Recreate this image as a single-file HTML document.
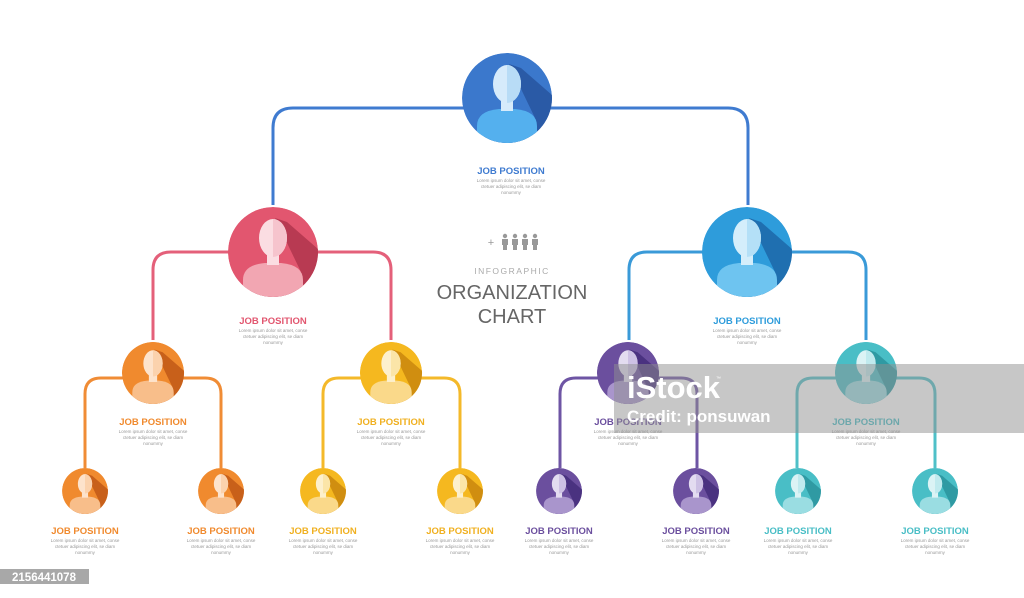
<!DOCTYPE html>
<html><head><meta charset="utf-8"><style>
html,body{margin:0;padding:0;background:#fff;}
svg{display:block;}
.t{font-family:"Liberation Sans",sans-serif;}
</style></head><body>
<svg width="1024" height="598" viewBox="0 0 1024 598" xmlns="http://www.w3.org/2000/svg">
<defs>
<clipPath id="cp"><circle r="45"/></clipPath>
<g id="node">
 <g clip-path="url(#cp)">
  <circle r="45" style="fill:var(--c)"/>
  <polygon points="2,-34 14,-30 60,10 60,60 10,60 -28,40 28,20" style="fill:var(--d)"/>
  <path d="M-30,45 L-30,28 Q-30,13 -8,11 L8,11 Q30,13 30,28 L30,45 Z" style="fill:var(--s)"/>
  <rect x="-6" y="2" width="12" height="11" style="fill:var(--l)"/>
  <ellipse cx="0" cy="-14" rx="14" ry="19" style="fill:var(--l)"/>
  <path d="M0,-33 A14,19 0 0 1 0,5 Z" style="fill:var(--r)"/>
 </g>
</g>
</defs>

<g fill="none" stroke-width="3">
 <path d="M273,205 V128 Q273,108 293,108 H728 Q748,108 748,128 V205" stroke="#3f7bd0"/>
 <path d="M153,340 V270 Q153,252 171,252 H373 Q391,252 391,270 V340" stroke="#e4607a"/>
 <path d="M629,340 V270 Q629,252 647,252 H848 Q866,252 866,270 V340" stroke="#3a9ad8"/>
 <path d="M85,468 V394 Q85,378 101,378 H205 Q221,378 221,394 V468" stroke="#f08c35"/>
 <path d="M323,468 V394 Q323,378 339,378 H444 Q460,378 460,394 V468" stroke="#f4b92a"/>
 <path d="M560,468 V394 Q560,378 576,378 H681 Q697,378 697,394 V468" stroke="#6e55a4"/>
 <path d="M797,468 V394 Q797,378 813,378 H919 Q935,378 935,394 V468" stroke="#4fc0c8"/>
</g>

<use href="#node" transform="translate(507,98)" style="--c:#3b78cc;--d:#2a5aa6;--s:#54b0ee;--l:#d6ebfb;--r:#b8dcf6"/>
<use href="#node" transform="translate(273,252)" style="--c:#e2566f;--d:#b83a52;--s:#f2a6b2;--l:#fbdde2;--r:#f6c4cd"/>
<use href="#node" transform="translate(747,252)" style="--c:#2e9cdb;--d:#1f6fb0;--s:#6ec4f0;--l:#d4eefb;--r:#b4e0f7"/>
<use href="#node" transform="translate(153,373) scale(0.69)" style="--c:#f08a2e;--d:#c8601a;--s:#f8be8a;--l:#fde3cc;--r:#fbd2ad"/>
<use href="#node" transform="translate(391,373) scale(0.69)" style="--c:#f5b81f;--d:#d08e10;--s:#fad98a;--l:#fdf0cc;--r:#fbe5a8"/>
<use href="#node" transform="translate(628,373) scale(0.69)" style="--c:#6b4f9e;--d:#4a3280;--s:#a995cc;--l:#e3dcf0;--r:#cdc1e4"/>
<use href="#node" transform="translate(866,373) scale(0.69)" style="--c:#49bec6;--d:#2f9aa3;--s:#9adde2;--l:#dbf3f5;--r:#c0eaee"/>
<use href="#node" transform="translate(85,491) scale(0.51)" style="--c:#f08a2e;--d:#c8601a;--s:#f8be8a;--l:#fde3cc;--r:#fbd2ad"/>
<use href="#node" transform="translate(221,491) scale(0.51)" style="--c:#f08a2e;--d:#c8601a;--s:#f8be8a;--l:#fde3cc;--r:#fbd2ad"/>
<use href="#node" transform="translate(323,491) scale(0.51)" style="--c:#f5b81f;--d:#d08e10;--s:#fad98a;--l:#fdf0cc;--r:#fbe5a8"/>
<use href="#node" transform="translate(460,491) scale(0.51)" style="--c:#f5b81f;--d:#d08e10;--s:#fad98a;--l:#fdf0cc;--r:#fbe5a8"/>
<use href="#node" transform="translate(559,491) scale(0.51)" style="--c:#6b4f9e;--d:#4a3280;--s:#a995cc;--l:#e3dcf0;--r:#cdc1e4"/>
<use href="#node" transform="translate(696,491) scale(0.51)" style="--c:#6b4f9e;--d:#4a3280;--s:#a995cc;--l:#e3dcf0;--r:#cdc1e4"/>
<use href="#node" transform="translate(798,491) scale(0.51)" style="--c:#49bec6;--d:#2f9aa3;--s:#9adde2;--l:#dbf3f5;--r:#c0eaee"/>
<use href="#node" transform="translate(935,491) scale(0.51)" style="--c:#49bec6;--d:#2f9aa3;--s:#9adde2;--l:#dbf3f5;--r:#c0eaee"/>

<g class="t" text-anchor="middle">
 <g font-size="9.5" font-weight="bold">
  <text x="511" y="174" fill="#3f7bd0">JOB POSITION</text>
  <text x="273" y="324" fill="#e2566f">JOB POSITION</text>
  <text x="747" y="324" fill="#2e9cdb">JOB POSITION</text>
  <text x="153" y="425" fill="#f08a2e">JOB POSITION</text>
  <text x="391" y="425" fill="#f0b020">JOB POSITION</text>
  <text x="628" y="425" fill="#6b4f9e">JOB POSITION</text>
  <text x="866" y="425" fill="#49bec6">JOB POSITION</text>
  <text x="85" y="534" fill="#f08a2e">JOB POSITION</text>
  <text x="221" y="534" fill="#f08a2e">JOB POSITION</text>
  <text x="323" y="534" fill="#f0b020">JOB POSITION</text>
  <text x="460" y="534" fill="#f0b020">JOB POSITION</text>
  <text x="559" y="534" fill="#6b4f9e">JOB POSITION</text>
  <text x="696" y="534" fill="#6b4f9e">JOB POSITION</text>
  <text x="798" y="534" fill="#49bec6">JOB POSITION</text>
  <text x="935" y="534" fill="#49bec6">JOB POSITION</text>
 </g>
 <g font-size="4.5" fill="#999">
  <text x="511" y="182">Lorem ipsum dolor sit amet, conse</text><text x="511" y="188">ctetuer adipiscing elit, se diam</text><text x="511" y="194">nonummy</text>
  <text x="273" y="332">Lorem ipsum dolor sit amet, conse</text><text x="273" y="338">ctetuer adipiscing elit, se diam</text><text x="273" y="344">nonummy</text>
  <text x="747" y="332">Lorem ipsum dolor sit amet, conse</text><text x="747" y="338">ctetuer adipiscing elit, se diam</text><text x="747" y="344">nonummy</text>
  <text x="153" y="433">Lorem ipsum dolor sit amet, conse</text><text x="153" y="439">ctetuer adipiscing elit, se diam</text><text x="153" y="445">nonummy</text>
  <text x="391" y="433">Lorem ipsum dolor sit amet, conse</text><text x="391" y="439">ctetuer adipiscing elit, se diam</text><text x="391" y="445">nonummy</text>
  <text x="628" y="433">Lorem ipsum dolor sit amet, conse</text><text x="628" y="439">ctetuer adipiscing elit, se diam</text><text x="628" y="445">nonummy</text>
  <text x="866" y="433">Lorem ipsum dolor sit amet, conse</text><text x="866" y="439">ctetuer adipiscing elit, se diam</text><text x="866" y="445">nonummy</text>
  <text x="85" y="542">Lorem ipsum dolor sit amet, conse</text><text x="85" y="548">ctetuer adipiscing elit, se diam</text><text x="85" y="554">nonummy</text>
  <text x="221" y="542">Lorem ipsum dolor sit amet, conse</text><text x="221" y="548">ctetuer adipiscing elit, se diam</text><text x="221" y="554">nonummy</text>
  <text x="323" y="542">Lorem ipsum dolor sit amet, conse</text><text x="323" y="548">ctetuer adipiscing elit, se diam</text><text x="323" y="554">nonummy</text>
  <text x="460" y="542">Lorem ipsum dolor sit amet, conse</text><text x="460" y="548">ctetuer adipiscing elit, se diam</text><text x="460" y="554">nonummy</text>
  <text x="559" y="542">Lorem ipsum dolor sit amet, conse</text><text x="559" y="548">ctetuer adipiscing elit, se diam</text><text x="559" y="554">nonummy</text>
  <text x="696" y="542">Lorem ipsum dolor sit amet, conse</text><text x="696" y="548">ctetuer adipiscing elit, se diam</text><text x="696" y="554">nonummy</text>
  <text x="798" y="542">Lorem ipsum dolor sit amet, conse</text><text x="798" y="548">ctetuer adipiscing elit, se diam</text><text x="798" y="554">nonummy</text>
  <text x="935" y="542">Lorem ipsum dolor sit amet, conse</text><text x="935" y="548">ctetuer adipiscing elit, se diam</text><text x="935" y="554">nonummy</text>
 </g>
 <text x="512" y="274" font-size="8.5" fill="#aaa" letter-spacing="1.5">INFOGRAPHIC</text>
 <text x="512" y="299" font-size="20" fill="#666">ORGANIZATION</text>
 <text x="512" y="323" font-size="20" fill="#666">CHART</text>
</g>
<g fill="#999">
 <text x="491" y="246" class="t" font-size="11" text-anchor="middle">+</text>
 <g id="pp"><circle cx="505" cy="236" r="2.2"/><path d="M502,239 h6 v6 h-1 v5 h-4 v-5 h-1 z"/></g>
 <use href="#pp" x="10"/><use href="#pp" x="20"/><use href="#pp" x="30"/>
</g>

<rect x="614" y="364" width="410" height="69" fill="#909090" opacity="0.5"/>
<text x="627" y="398" class="t" font-size="31" font-weight="bold" fill="#fff">iStock</text>
<text x="716" y="380" class="t" font-size="5" fill="#fff">™</text>
<text x="627" y="422" class="t" font-size="17" font-weight="bold" fill="#fff">Credit: ponsuwan</text>

<rect x="0" y="569" width="89" height="15" fill="#a8a8a8"/>
<text x="44" y="581" class="t" font-size="11.5" font-weight="bold" fill="#fff" text-anchor="middle">2156441078</text>
</svg>
</body></html>
